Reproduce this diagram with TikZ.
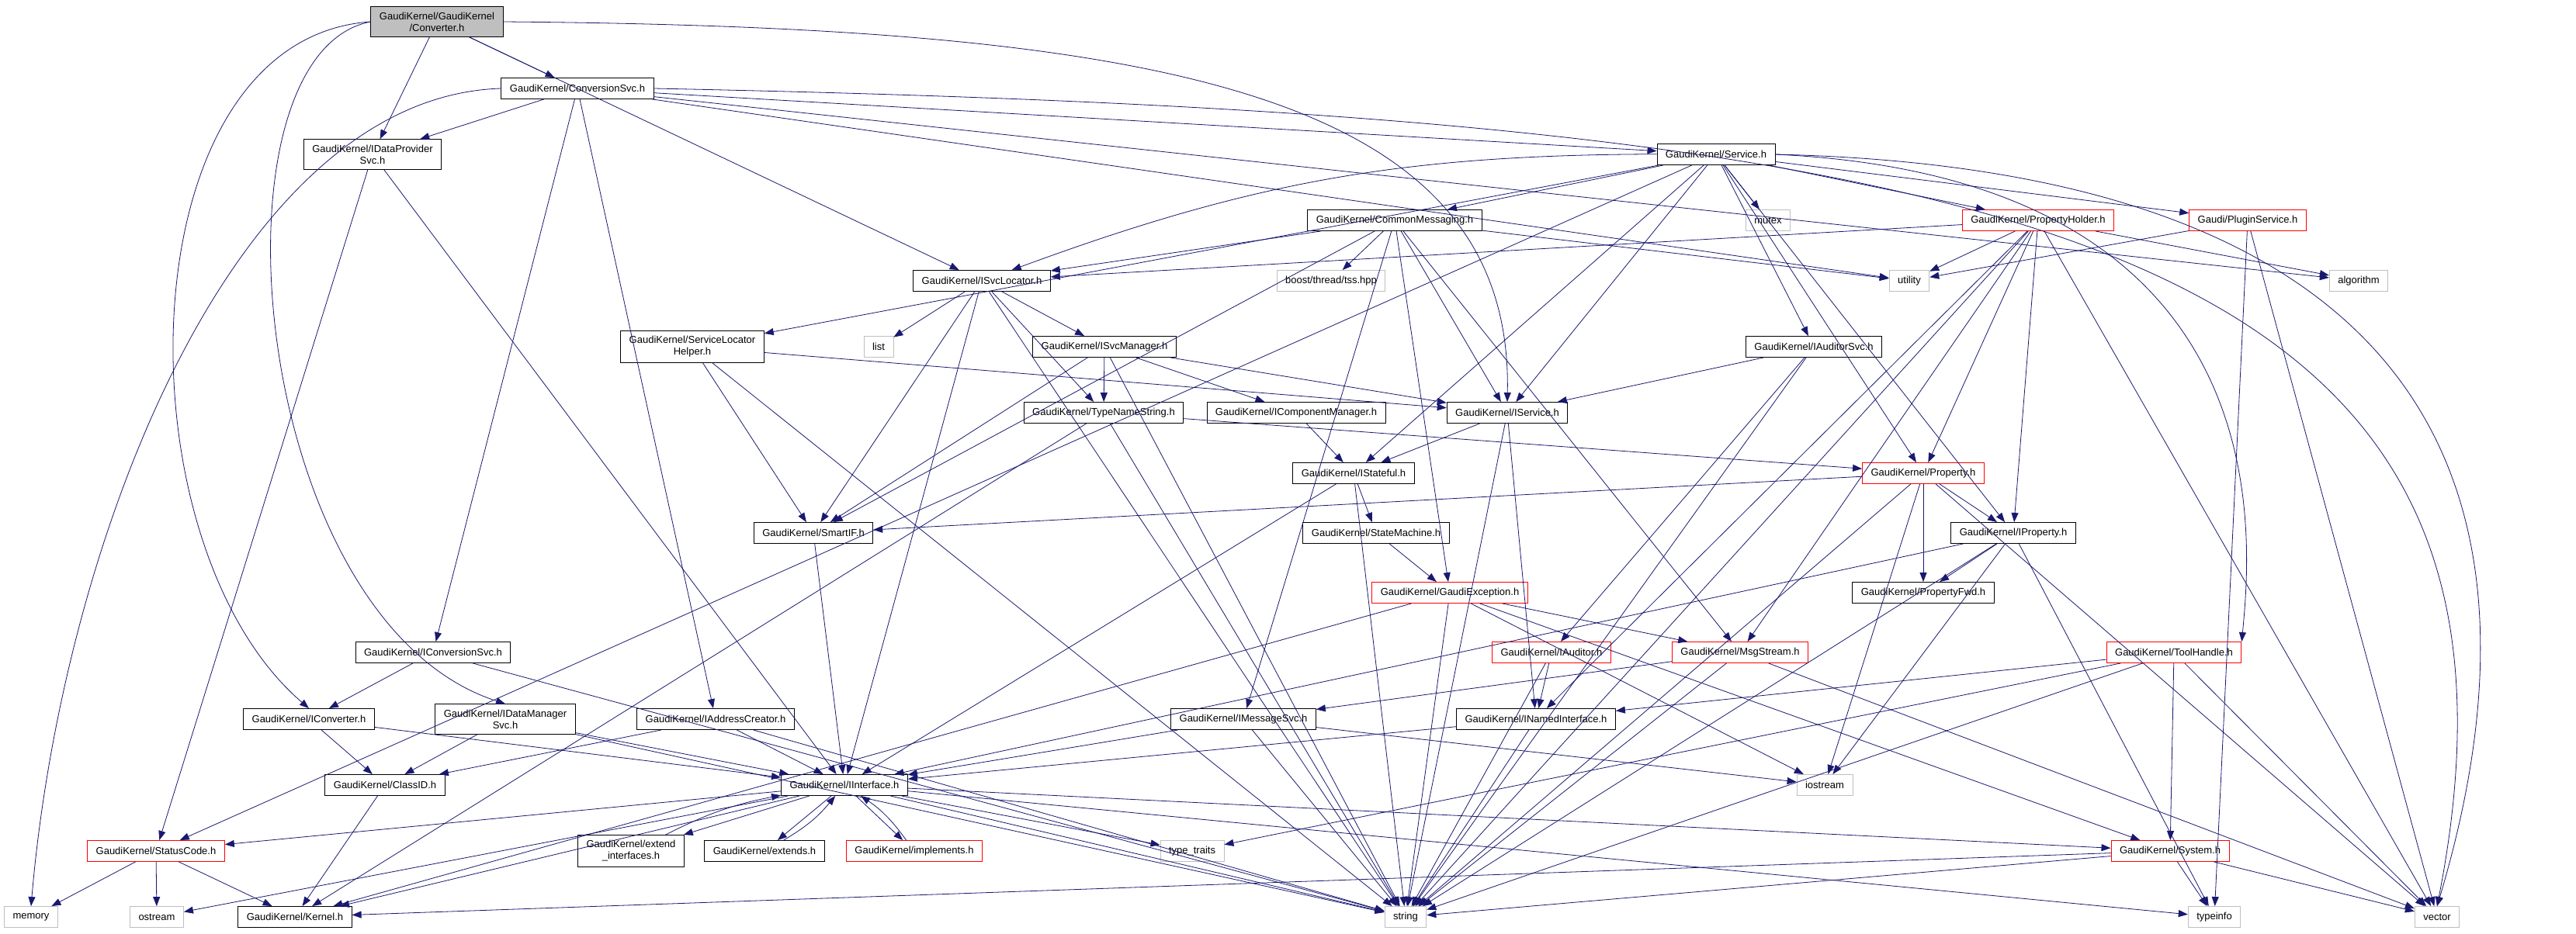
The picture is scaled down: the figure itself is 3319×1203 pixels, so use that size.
\documentclass[tikz,border=0pt]{standalone}
\usepackage{fontspec}
\setmainfont{Liberation Sans}
\usetikzlibrary{arrows.meta}
\definecolor{navy}{HTML}{191970}
\definecolor{rootgray}{HTML}{BFBFBF}
\definecolor{sysgray}{HTML}{BFBFBF}
\tikzset{hdr/.style={draw=black,rectangle,line width=0.9pt,inner xsep=11pt,inner ysep=7pt,
    minimum height=27pt,align=center,font=\fontsize{13}{15}\selectfont},
  redhdr/.style={hdr,draw=red},
  syshdr/.style={hdr,draw=sysgray},
  roothdr/.style={hdr,fill=rootgray},
  edge/.style={draw=navy,line width=0.8pt,-{Triangle[length=12pt,width=9pt]}}}

\begin{document}
\begin{tikzpicture}[x=1pt,y=-1pt]
  \useasboundingbox (0,0) rectangle (3319,1203);
   \node[roothdr] (root) at (563,28) {GaudiKernel/GaudiKernel\\/Converter.h};
   \node[hdr] (convsvc) at (744,114) {GaudiKernel/ConversionSvc.h};
   \node[hdr] (idps) at (480,199) {GaudiKernel/IDataProvider\\Svc.h};
   \node[hdr] (service) at (2211,199) {GaudiKernel/Service.h};
   \node[hdr] (cmsg) at (1797,284) {GaudiKernel/CommonMessaging.h};
   \node[syshdr] (mutex) at (2278,284) {mutex};
   \node[redhdr] (pholder) at (2626,284) {GaudiKernel/PropertyHolder.h};
   \node[redhdr] (plugin) at (2896,284) {Gaudi/PluginService.h};
   \node[hdr] (isl) at (1265,362) {GaudiKernel/ISvcLocator.h};
   \node[syshdr] (boost) at (1715,362) {boost/thread/tss.hpp};
   \node[syshdr] (utility) at (2460,362) {utility};
   \node[syshdr] (algorithm) at (3039,362) {algorithm};
   \node[hdr] (slh) at (892,447) {GaudiKernel/ServiceLocator\\Helper.h};
   \node[syshdr] (list) at (1132,447) {list};
   \node[hdr] (isvcmgr) at (1423,447) {GaudiKernel/ISvcManager.h};
   \node[hdr] (iauditorsvc) at (2337,447) {GaudiKernel/IAuditorSvc.h};
   \node[hdr] (tns) at (1422,532) {GaudiKernel/TypeNameString.h};
   \node[hdr] (icompmgr) at (1670,532) {GaudiKernel/IComponentManager.h};
   \node[hdr] (iservice) at (1942,532) {GaudiKernel/IService.h};
   \node[hdr] (istateful) at (1744,610) {GaudiKernel/IStateful.h};
   \node[redhdr] (property) at (2478,610) {GaudiKernel/Property.h};
   \node[hdr] (smartif) at (1048,687) {GaudiKernel/SmartIF.h};
   \node[hdr] (statemachine) at (1773,687) {GaudiKernel/StateMachine.h};
   \node[hdr] (iproperty) at (2594,687) {GaudiKernel/IProperty.h};
   \node[redhdr] (gexc) at (1868,764) {GaudiKernel/GaudiException.h};
   \node[hdr] (propfwd) at (2478,764) {GaudiKernel/PropertyFwd.h};
   \node[hdr] (iconvsvc) at (558,841) {GaudiKernel/IConversionSvc.h};
   \node[redhdr] (iauditor) at (1999,841) {GaudiKernel/IAuditor.h};
   \node[redhdr] (msgstream) at (2242,841) {GaudiKernel/MsgStream.h};
   \node[redhdr] (toolhandle) at (2801,841) {GaudiKernel/ToolHandle.h};
   \node[hdr] (iconverter) at (398,927) {GaudiKernel/IConverter.h};
   \node[hdr] (idms) at (651,927) {GaudiKernel/IDataManager\\Svc.h};
   \node[hdr] (iaddr) at (922,927) {GaudiKernel/IAddressCreator.h};
   \node[hdr] (imsgsvc) at (1602,927) {GaudiKernel/IMessageSvc.h};
   \node[hdr] (inamed) at (1979,927) {GaudiKernel/INamedInterface.h};
   \node[syshdr] (iostream) at (2351,1012) {iostream};
   \node[hdr] (classid) at (496,1012) {GaudiKernel/ClassID.h};
   \node[hdr] (iinterface) at (1088,1012) {GaudiKernel/IInterface.h};
   \node[redhdr] (statuscode) at (201,1097) {GaudiKernel/StatusCode.h};
   \node[hdr] (extif) at (813,1097) {GaudiKernel/extend\\\_interfaces.h};
   \node[hdr] (extends) at (985,1097) {GaudiKernel/extends.h};
   \node[redhdr] (implements) at (1178,1097) {GaudiKernel/implements.h};
   \node[syshdr] (typetraits) at (1536,1097) {type\_traits};
   \node[redhdr] (system) at (2796,1097) {GaudiKernel/System.h};
   \node[syshdr] (memory) at (40,1182) {memory};
   \node[syshdr] (ostream) at (202,1182) {ostream};
   \node[hdr] (kernel) at (380,1182) {GaudiKernel/Kernel.h};
   \node[syshdr] (string) at (1811,1182) {string};
   \node[syshdr] (typeinfo) at (2853,1182) {typeinfo};
   \node[syshdr] (vector) at (3140,1182) {vector};

   % Converter.h
   \draw[edge] (root) -- (convsvc);
   \draw[edge] (root) -- (idps);
   \draw[edge] (root) -- (isl);
   \draw[edge] (root.east) .. controls (1500,35) and (1950,120) .. (iservice.north);
   \draw[edge] (root.west) .. controls (160,50) and (150,700) .. (iconverter.north);
   \draw[edge] (root.west) .. controls (260,70) and (320,800) .. (idms.north);
   % ConversionSvc.h
   \draw[edge] (convsvc) -- (idps);
   \draw[edge] (convsvc) -- (service);
   \draw[edge] (convsvc) -- (iconvsvc);
   \draw[edge] (convsvc) -- (iaddr);
   \draw[edge] (convsvc) -- (utility);
   \draw[edge] (convsvc) -- (algorithm);
   \draw[edge] (convsvc.east) .. controls (2600,150) and (3310,300) .. (vector.north);
   \draw[edge] (convsvc.west) .. controls (300,125) and (80,700) .. (memory.north);
   \draw[edge] (idps) -- (statuscode);
   \draw[edge] (idps) -- (iinterface);
   % Service.h
   \draw[edge] (service) -- (cmsg);
   \draw[edge] (service) -- (mutex);
   \draw[edge] (service) -- (pholder);
   \draw[edge] (service) -- (plugin);
   \draw[edge] (service) to[bend right=10] (isl);
   \draw[edge] (service) -- (iservice);
   \draw[edge] (service) -- (iauditorsvc);
   \draw[edge] (service) -- (property);
   \draw[edge] (service) -- (iproperty);
   \draw[edge] (service.east) .. controls (2950,230) and (2900,700) .. (toolhandle.north east);
   \draw[edge] (service.east) .. controls (3200,220) and (3280,700) .. (vector.north);
   \draw[edge] (service) -- (slh);
   \draw[edge] (service) -- (statuscode);
   \draw[edge] (service) -- (istateful);
   % CommonMessaging.h
   \draw[edge] (cmsg) -- (isl);
   \draw[edge] (cmsg) -- (smartif);
   \draw[edge] (cmsg) -- (boost);
   \draw[edge] (cmsg) -- (utility);
   \draw[edge] (cmsg) -- (iservice);
   \draw[edge] (cmsg) -- (imsgsvc);
   \draw[edge] (cmsg) -- (msgstream);
   \draw[edge] (cmsg) -- (gexc);
   % PropertyHolder.h and PluginService.h
   \draw[edge] (pholder) -- (utility);
   \draw[edge] (pholder) -- (algorithm);
   \draw[edge] (pholder) -- (isl);
   \draw[edge] (pholder) -- (property);
   \draw[edge] (pholder) -- (iproperty);
   \draw[edge] (pholder) -- (msgstream);
   \draw[edge] (pholder) -- (inamed);
   \draw[edge] (pholder) -- (string);
   \draw[edge] (pholder) -- (vector);
   \draw[edge] (plugin) -- (utility);
   \draw[edge] (plugin) -- (typeinfo);
   \draw[edge] (plugin) -- (vector);
   % ISvcLocator.h, ISvcManager.h
   \draw[edge] (isl) -- (list);
   \draw[edge] (isl) -- (isvcmgr);
   \draw[edge] (isl) -- (tns);
   \draw[edge] (isl) -- (smartif);
   \draw[edge] (isl) -- (iinterface);
   \draw[edge] (isl) -- (string);
   \draw[edge] (isvcmgr) -- (smartif);
   \draw[edge] (isvcmgr) -- (tns);
   \draw[edge] (isvcmgr) -- (icompmgr);
   \draw[edge] (isvcmgr) -- (iservice);
   \draw[edge] (isvcmgr) -- (string);
   \draw[edge] (icompmgr) -- (istateful);
   \draw[edge] (tns) -- (property);
   \draw[edge] (tns) -- (string);
   \draw[edge] (tns) -- (kernel);
   \draw[edge] (slh) -- (smartif);
   \draw[edge] (slh) -- (iservice);
   \draw[edge] (slh) -- (string);
   \draw[edge] (smartif) -- (iinterface);
   % IService.h, IStateful.h
   \draw[edge] (iservice) -- (istateful);
   \draw[edge] (iservice) -- (inamed);
   \draw[edge] (iservice) -- (string);
   \draw[edge] (istateful) -- (statemachine);
   \draw[edge] (istateful) -- (iinterface);
   \draw[edge] (istateful) -- (string);
   \draw[edge] (statemachine) -- (gexc);
   \draw[edge] (gexc) -- (msgstream);
   \draw[edge] (gexc) -- (string);
   \draw[edge] (gexc) -- (kernel);
   \draw[edge] (gexc) -- (iostream);
   \draw[edge] (gexc) -- (system);
   \draw[edge] (iauditorsvc) -- (iservice);
   \draw[edge] (iauditorsvc) -- (iauditor);
   \draw[edge] (iauditorsvc) -- (string);
   % Property.h, IProperty.h
   \draw[edge] (property) -- (smartif);
   \draw[edge] (property) -- (iproperty);
   \draw[edge] (property) -- (propfwd);
   \draw[edge] (property) -- (string);
   \draw[edge] (property) -- (iostream);
   \draw[edge] (property) -- (vector);
   \draw[edge] (iproperty) -- (propfwd);
   \draw[edge] (iproperty) -- (iinterface);
   \draw[edge] (iproperty) -- (iostream);
   \draw[edge] (iproperty) -- (string);
   \draw[edge] (iproperty) -- (typeinfo);
   % messages, auditors, tools
   \draw[edge] (msgstream) -- (imsgsvc);
   \draw[edge] (msgstream) -- (string);
   \draw[edge] (msgstream) -- (vector);
   \draw[edge] (imsgsvc) -- (iinterface);
   \draw[edge] (imsgsvc) -- (string);
   \draw[edge] (imsgsvc) -- (iostream);
   \draw[edge] (iauditor) -- (inamed);
   \draw[edge] (iauditor) -- (string);
   \draw[edge] (inamed) -- (iinterface);
   \draw[edge] (inamed) -- (string);
   \draw[edge] (toolhandle) -- (inamed);
   \draw[edge] (toolhandle) -- (typetraits);
   \draw[edge] (toolhandle) -- (string);
   \draw[edge] (toolhandle) -- (vector);
   \draw[edge] (toolhandle) -- (system);
   % conversion interfaces
   \draw[edge] (iconvsvc) -- (iconverter);
   \draw[edge] (iconvsvc) -- (string);
   \draw[edge] (iconverter) -- (classid);
   \draw[edge] (iconverter) -- (iinterface);
   \draw[edge] (idms) -- (classid);
   \draw[edge] (idms) -- (iinterface);
   \draw[edge] (idms) -- (string);
   \draw[edge] (iaddr) -- (classid);
   \draw[edge] (iaddr) -- (iinterface);
   \draw[edge] (iaddr) -- (string);
   \draw[edge] (classid) -- (kernel);
   % IInterface.h
   \draw[edge] (iinterface) -- (statuscode);
   \draw[edge] (iinterface) -- (kernel);
   \draw[edge] (iinterface) -- (ostream);
   \draw[edge] (iinterface) -- (string);
   \draw[edge] (iinterface) -- (typetraits);
   \draw[edge] (iinterface) -- (typeinfo);
   \draw[edge] (iinterface) -- (system);
   \draw[edge] (iinterface) -- (extif);
   \draw[edge] (extif) to[bend left=8] (iinterface);
   \draw[edge] (iinterface) -- (extends);
   \draw[edge] (extends) to[bend right=10] (iinterface);
   \draw[edge] (iinterface) -- (implements);
   \draw[edge] (implements) to[bend right=10] (iinterface);
   \draw[edge] (statuscode) -- (memory);
   \draw[edge] (statuscode) -- (ostream);
   \draw[edge] (statuscode) -- (kernel);
   \draw[edge] (system) -- (typeinfo);
   \draw[edge] (system) -- (vector);
   \draw[edge] (system) -- (kernel);
   \draw[edge] (system) -- (string);
  \end{tikzpicture}
\end{document}
